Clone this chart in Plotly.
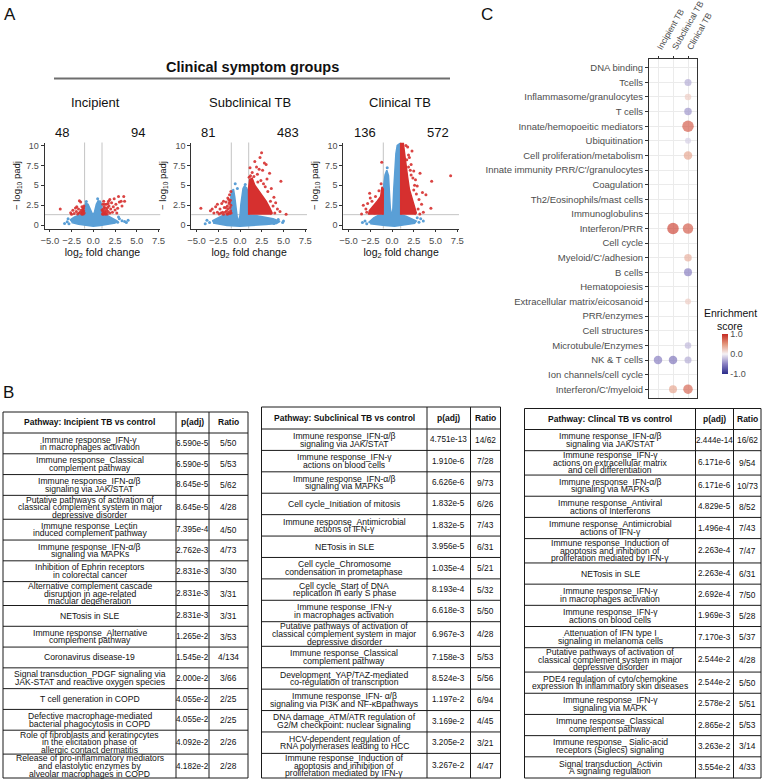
import plotly.graph_objects as go

W, H = 763, 780
def px(x): return x / W
def py(y): return 1 - y / H

FONT = "Liberation Sans, Arial, sans-serif"
NARROW = "Liberation Sans Narrow, Arial Narrow, Liberation Sans, sans-serif"

# ---------------- Panel A data ----------------
groups = ["Incipient", "Subclinical TB", "Clinical TB"]
n_down = [48, 81, 136]
n_up = [94, 483, 572]

# Incipient
inc_blob_x = [-2.7, -2.2, -1.6, -1.02, -1.0, -0.85, -0.6, -0.35, -0.15, -0.02, 0.15, 0.35, 0.55, 0.8, 0.98, 1.0, 1.6, 2.2, 2.7, 2.5, 1.6, 0.8, 0.0, -0.8, -1.7, -2.5]
inc_blob_y = [0.6, 1.0, 1.25, 1.3, 2.3, 2.75, 2.6, 2.0, 1.4, 1.2, 1.7, 2.6, 3.05, 3.0, 2.5, 1.3, 1.2, 0.9, 0.55, 0.25, 0.05, -0.05, -0.15, -0.05, 0.1, 0.3]
inc_blue_x = [-3.0, -2.9, -3.3, 2.8, 3.0, 3.3, 3.6, 4.0, 3.8, 0.5, -0.8, 2.9, -2.8]
inc_blue_y = [0.4, 0.8, 0.2, 0.35, 0.8, 0.55, 0.45, 0.6, 0.3, 3.3, 2.95, 1.0, 0.15]
inc_red_x = [-3.8, -2.6, -2.35, -2.2, -2.05, -1.95, -1.8, -1.7, -1.6, -1.5, -1.45, -1.4, -1.35, -1.3, -1.25, -1.2, -1.15, -1.1, -1.08, -1.05, -1.12, -1.22, -1.3, -2.5, -1.65, -1.9,
             1.05, 1.1, 1.15, 1.2, 1.25, 1.3, 1.35, 1.4, 1.45, 1.5, 1.55, 1.6, 1.65, 1.7, 1.75, 1.8, 1.9, 2.0, 2.1, 2.2, 2.3, 2.4, 2.5, 2.6, 2.7, 2.9, 3.0, 3.2, 3.3, 3.5, 3.6, 1.1, 1.2, 1.3, 1.9, 2.8, 1.0, 1.15, 1.4, 1.7]
inc_red_y = [2.0, 1.55, 1.85, 1.45, 2.15, 1.7, 1.4, 2.0, 3.05, 1.6, 2.9, 1.85, 1.45, 2.3, 1.65, 2.0, 1.4, 1.8, 2.4, 1.5, 2.15, 1.75, 1.35, 1.35, 1.5, 2.3,
             1.4, 1.7, 2.0, 1.5, 2.3, 1.8, 1.45, 2.1, 1.6, 2.6, 1.9, 1.4, 2.2, 1.7, 3.0, 2.4, 1.5, 2.0, 2.8, 1.6, 2.3, 3.3, 1.9, 2.6, 1.5, 3.6, 2.9, 3.0, 2.4, 3.6, 3.0, 2.6, 3.0, 2.6, 3.2, 2.1, 1.9, 1.35, 1.35, 2.7]

# Subclinical
sub_blob_x = [-3.2, -2.6, -2.0, -1.02, -1.0, -1.05, -0.95, -0.75, -0.6, -0.45, -0.3, -0.15, 0.0, 0.1, 0.2, 0.35, 0.5, 0.75, 0.98, 1.0, 1.8, 2.8, 3.8, 4.6, 4.2, 3.0, 1.5, 0.0, -1.5, -2.6, -3.1]
sub_blob_y = [0.5, 0.9, 1.2, 1.3, 2.5, 3.6, 4.3, 4.5, 3.5, 2.0, 0.8, 0.6, 1.2, 2.6, 3.8, 4.6, 4.9, 4.7, 4.0, 1.3, 1.2, 1.0, 0.8, 0.45, 0.2, 0.05, -0.05, -0.15, -0.05, 0.1, 0.25]
sub_blue_x = [-0.55, -3.5, -3.8, -4.0, 4.9, 4.4, 5.0, 3.9, -0.3, 0.6]
sub_blue_y = [5.2, 0.3, 0.6, 0.15, 0.3, 0.7, 0.5, 0.2, 4.6, 5.1]
sub_reddense_x = [1.0, 0.98, 1.1, 1.4, 1.7, 2.1, 2.6, 3.0, 3.4, 3.7, 3.5]
sub_reddense_y = [1.3, 4.6, 5.7, 5.9, 5.0, 4.4, 3.6, 3.0, 2.2, 1.5, 1.3]
sub_red_x = [-4.5, -3.4, -3.0, -2.8, -2.6, -2.4, -2.3, -2.1, -2.0, -1.9, -1.8, -1.7, -1.6, -1.55, -1.5, -1.45, -1.4, -1.35, -1.3, -1.25, -1.2, -1.18, -1.15, -1.1, -1.08, -1.05, -1.05, -1.02, -1.3, -1.6, -2.6, -3.2, -1.9, -1.2, -1.4, -2.2,
             2.48, 2.3, 2.8, 3.0, 1.7, 1.9, 2.2, 2.6, 1.4, 1.2, 2.0, 3.4, 4.7, 3.1, 2.4, 1.6, 3.6, 3.2, 2.9, 3.9, 4.1, 3.8, 4.3, 4.6, 5.3, 3.5, 4.0, 2.7, 1.15, 2.05, 1.3, 1.05]
sub_red_y = [2.1, 1.8, 1.5, 2.3, 1.6, 1.4, 2.0, 2.7, 1.6, 1.35, 2.2, 1.6, 2.9, 1.8, 1.4, 2.4, 3.4, 2.0, 1.6, 2.7, 3.8, 1.45, 2.2, 3.1, 1.8, 4.2, 2.5, 1.5, 3.2, 2.2, 2.6, 2.0, 3.0, 2.9, 1.4, 1.5,
             9.1, 8.5, 7.8, 7.6, 8.0, 7.3, 7.0, 6.9, 6.6, 6.2, 6.4, 6.5, 5.5, 5.8, 5.6, 6.1, 4.6, 4.2, 4.8, 3.5, 2.8, 2.4, 2.0, 1.7, 1.35, 3.0, 1.5, 5.2, 7.2, 5.4, 5.3, 6.0]

# Clinical
cli_blob_x = [-2.7, -2.1, -1.5, -1.02, -1.0, -0.95, -0.8, -0.6, -0.4, -0.3, -0.2, -0.05, 0.1, 0.2, 0.3, 0.45, 0.6, 0.85, 0.98, 1.0, 1.6, 2.2, 2.8, 2.6, 1.5, 0.3, -0.8, -1.8, -2.5]
cli_blob_y = [0.3, 0.9, 1.25, 1.3, 3.0, 5.0, 6.3, 6.9, 6.2, 4.0, 2.2, 1.0, 2.0, 4.5, 7.0, 9.0, 10.0, 10.2, 9.0, 1.3, 1.1, 0.8, 0.5, 0.2, 0.0, -0.15, -0.05, 0.1, 0.15]
cli_blue_x = [-2.9, -3.1, 3.1, 3.3, 2.9, -0.55, 3.6, -3.4]
cli_blue_y = [0.15, 0.5, 0.35, 0.8, 0.9, 7.2, 0.5, 0.3]
cli_redleft_x = [-1.02, -1.0, -1.15, -1.3, -1.7, -2.2, -2.6, -2.7]
cli_redleft_y = [1.3, 4.5, 4.8, 3.6, 3.0, 2.4, 1.8, 1.3]
cli_redright_x = [1.0, 1.0, 1.3, 1.45, 1.6, 1.8, 2.0, 2.3, 2.6, 2.8, 2.6]
cli_redright_y = [1.3, 10.3, 10.3, 9.2, 7.5, 6.0, 4.5, 3.3, 2.2, 1.5, 1.3]
cli_red_x = [-1.18, -2.57, -1.9, -3.0, -2.9, -3.3, -2.3, -1.5, -1.25, -2.8, -2.0, -1.6, -3.5, -2.5,
             3.22, 4.56, 6.74, 3.9, 4.47, 1.8, 1.6, 2.0, 2.2, 2.5, 2.7, 2.9, 3.1, 3.4, 3.0, 3.6, 2.3, 2.6, 3.5, 2.2, 1.9, 3.2,
             1.7, 2.1, 2.4, 2.8, 1.9, 2.5]
cli_red_y = [7.9, 4.0, 3.6, 2.0, 1.6, 2.5, 3.0, 4.3, 5.2, 2.7, 1.5, 2.0, 1.4, 3.4,
             6.5, 5.5, 6.2, 3.8, 2.1, 9.8, 10.0, 8.5, 7.6, 6.8, 5.7, 4.9, 3.2, 2.6, 2.0, 1.6, 9.3, 5.0, 4.1, 6.3, 8.8, 1.4,
             8.2, 6.9, 5.9, 3.9, 7.3, 4.4]

lfc_threshold = 1.0
padj_threshold = 1.3  # -log10(0.05)

x_ticks = [-5, -2.5, 0, 2.5, 5, 7.5]
x_ticklabels = ["\u22125.0", "\u22122.5", "0.0", "2.5", "5.0", "7.5"]
y_ticks = [0, 2.5, 5, 7.5, 10]
y_ticklabels = ["0", "2.5", "5", "7.5", "10"]

# ---------------- Panel C data ----------------
modules = ["DNA binding", "Tcells", "Inflammasome/granulocytes", "T cells", "Innate/hemopoeitic mediators",
           "Ubiquitination", "Cell proliferation/metabolism", "Innate immunity PRR/C'/granulocytes", "Coagulation",
           "Th2/Eosinophils/mast cells", "Immunoglobulins", "Interferon/PRR", "Cell cycle", "Myeloid/C'/adhesion",
           "B cells", "Hematopoiesis", "Extracellular matrix/eicosanoid", "PRR/enzymes", "Cell structures",
           "Microtubule/Enzymes", "NK & T cells", "Ion channels/cell cycle", "Interferon/C'/myeloid"]
conditions = ["Incipient TB", "Subclinical TB", "Clinical TB"]
dot_module = ["Tcells", "Inflammasome/granulocytes", "T cells", "Innate/hemopoeitic mediators", "Ubiquitination",
              "Cell proliferation/metabolism", "Interferon/PRR", "Interferon/PRR", "Myeloid/C'/adhesion", "B cells",
              "Extracellular matrix/eicosanoid", "Microtubule/Enzymes", "NK & T cells", "NK & T cells", "NK & T cells",
              "Interferon/C'/myeloid", "Interferon/C'/myeloid"]
dot_condition = ["Clinical TB", "Clinical TB", "Clinical TB", "Clinical TB", "Clinical TB", "Clinical TB",
                 "Subclinical TB", "Clinical TB", "Clinical TB", "Clinical TB", "Clinical TB", "Clinical TB",
                 "Incipient TB", "Subclinical TB", "Clinical TB", "Subclinical TB", "Clinical TB"]
dot_score = [-0.3, 0.2, -0.4, 0.75, -0.15, 0.4, 0.85, 0.75, 0.35, -0.5, 0.2, -0.25, -0.5, -0.55, -0.3, 0.4, 0.7]
dot_neglog10p = [3.0, 2.67, 3.33, 6.0, 2.33, 4.0, 6.0, 5.33, 3.33, 3.67, 2.33, 2.67, 4.0, 4.0, 3.0, 3.67, 4.67]

# ---------------- Panel B data ----------------
inc_paths = ["Immune response_IFN-\u03b3\nin macrophages activation",
             "Immune response_Classical\ncomplement pathway",
             "Immune response_IFN-\u03b1/\u03b2\nsignaling via JAK/STAT",
             "Putative pathways of activation of\nclassical complement system in major\ndepressive disorder",
             "Immune response_Lectin\ninduced complement pathway",
             "Immune response_IFN-\u03b1/\u03b2\nsignaling via MAPKs",
             "Inhibition of Ephrin receptors\nin colorectal cancer",
             "Alternative complement cascade\ndisruption in age-related\nmacular degeneration",
             "NETosis in SLE",
             "Immune response_Alternative\ncomplement pathway",
             "Coronavirus disease-19",
             "Signal transduction_PDGF signaling via\nJAK-STAT and reactive oxygen species",
             "T cell generation in COPD",
             "Defective macrophage-mediated\nbacterial phagocytosis in COPD",
             "Role of fibroblasts and keratinocytes\nin the elicitation phase of\nallergic contact dermatitis",
             "Release of pro-inflammatory mediators\nand elastolytic enzymes by\nalveolar macrophages in COPD"]
inc_padj = ["6.590e-5", "6.590e-5", "8.645e-5", "8.645e-5", "7.395e-4", "2.762e-3", "2.831e-3", "2.831e-3",
            "2.831e-3", "1.265e-2", "1.545e-2", "2.000e-2", "4.055e-2", "4.055e-2", "4.092e-2", "4.182e-2"]
inc_ratio = ["5/50", "5/53", "5/62", "4/28", "4/50", "4/73", "3/30", "3/31", "3/31", "3/53", "4/134", "3/66",
             "2/25", "2/25", "2/26", "2/28"]

sub_paths = ["Immune response_IFN-\u03b1/\u03b2\nsignaling via JAK/STAT",
             "Immune response_IFN-\u03b3\nactions on blood cells",
             "Immune response_IFN-\u03b1/\u03b2\nsignaling via MAPKs",
             "Cell cycle_Initiation of mitosis",
             "Immune response_Antimicrobial\nactions of IFN-\u03b3",
             "NETosis in SLE",
             "Cell cycle_Chromosome\ncondensation in prometaphase",
             "Cell cycle_Start of DNA\nreplication in early S phase",
             "Immune response_IFN-\u03b3\nin macrophages activation",
             "Putative pathways of activation of\nclassical complement system in major\ndepressive disorder",
             "Immune response_Classical\ncomplement pathway",
             "Development_YAP/TAZ-mediated\nco-regulation of transcription",
             "Immune response_IFN- \u03b1/\u03b2\nsignaling via PI3K and NF-\u03baBpathways",
             "DNA damage_ATM/ATR regulation of\nG2/M checkpoint: nuclear signaling",
             "HCV-dependent regulation of\nRNA polymerases leading to HCC",
             "Immune response_Induction of\napoptosis and inhibition of\nproliferation mediated by IFN-\u03b3"]
sub_padj = ["4.751e-13", "1.910e-6", "6.626e-6", "1.832e-5", "1.832e-5", "3.956e-5", "1.035e-4", "8.193e-4",
            "6.618e-3", "6.967e-3", "7.158e-3", "8.524e-3", "1.197e-2", "3.169e-2", "3.205e-2", "3.267e-2"]
sub_ratio = ["14/62", "7/28", "9/73", "6/26", "7/43", "6/31", "5/21", "5/32", "5/50", "4/28", "5/53", "5/56",
             "6/94", "4/45", "3/21", "4/47"]

cli_paths = ["Immune response_IFN-\u03b1/\u03b2\nsignaling via JAK/STAT",
             "Immune response_IFN-\u03b3\nactions on extracellular matrix\nand cell differentiation",
             "Immune response_IFN-\u03b1/\u03b2\nsignaling via MAPKs",
             "Immune response_Antiviral\nactions of Interferons",
             "Immune response_Antimicrobial\nactions of IFN-\u03b3",
             "Immune response_Induction of\napoptosis and inhibition of\nproliferation mediated by IFN-\u03b3",
             "NETosis in SLE",
             "Immune response_IFN-\u03b3\nin macrophages activation",
             "Immune response_IFN-\u03b3\nactions on blood cells",
             "Attenuation of IFN type I\nsignaling in melanoma cells",
             "Putative pathways of activation of\nclassical complement system in major\ndepressive disorder",
             "PDE4 regulation of cyto/chemokine\nexpression in inflammatory skin diseases",
             "Immune response_IFN-\u03b3\nsignaling via MAPK",
             "Immune response_Classical\ncomplement pathway",
             "Immune response_ Sialic-acid\nreceptors (Siglecs) signaling",
             "Signal transduction_Activin\nA signaling regulation"]
cli_padj = ["2.444e-14", "6.171e-6", "6.171e-6", "4.829e-5", "1.496e-4", "2.263e-4", "2.263e-4", "2.692e-4",
            "1.969e-3", "7.170e-3", "2.544e-2", "2.544e-2", "2.578e-2", "2.865e-2", "3.263e-2", "3.554e-2"]
cli_ratio = ["16/62", "9/54", "10/73", "8/52", "7/43", "7/47", "6/31", "7/50", "5/28", "5/37", "4/28", "5/50",
             "5/51", "5/53", "3/14", "4/33"]

table_headers = ["Pathway: Incipient TB vs control", "Pathway: Subclinical TB vs control", "Pathway: Clincal TB vs control"]
col_headers = ["p(adj)", "Ratio"]

# ---------------- Figure ----------------
BLUE = "#5A9FD6"
RED = "#D6302F"
fig = go.Figure()
annotations = []
shapes = []

def ann(x, y, text, size, color="#111111", family=FONT, xanchor="center", yanchor="middle", angle=0):
    annotations.append(dict(x=px(x), y=py(y), xref="paper", yref="paper", text=text, showarrow=False,
                            font=dict(size=size, color=color, family=family), xanchor=xanchor,
                            yanchor=yanchor, textangle=angle, borderpad=0))

volc = [
    (inc_blob_x, inc_blob_y, inc_blue_x, inc_blue_y, [], inc_red_x, inc_red_y),
    (sub_blob_x, sub_blob_y, sub_blue_x, sub_blue_y, [(sub_reddense_x, sub_reddense_y)], sub_red_x, sub_red_y),
    (cli_blob_x, cli_blob_y, cli_blue_x, cli_blue_y, [(cli_redleft_x, cli_redleft_y), (cli_redright_x, cli_redright_y)], cli_red_x, cli_red_y),
]
zero_px = [93.3, 240.0, 392.0]
unit_x = 8.7
xr = [-5.6, 7.7]
yr = [-0.44, 10.38]
y_top, y_bot = 142.5, 228.5

for i, (bx, by, blx, bly, dense, rx, ry) in enumerate(volc):
    xa = "x" if i == 0 else f"x{i+1}"
    ya = "y" if i == 0 else f"y{i+1}"
    fig.add_trace(go.Scatter(x=bx, y=by, mode="lines", fill="toself", fillcolor=BLUE,
                             line=dict(color=BLUE, width=1.5), xaxis=xa, yaxis=ya, hoverinfo="skip"))
    fig.add_trace(go.Scatter(x=blx, y=bly, mode="markers", marker=dict(color=BLUE, size=3),
                             xaxis=xa, yaxis=ya))
    for dx, dy in dense:
        fig.add_trace(go.Scatter(x=dx, y=dy, mode="lines", fill="toself", fillcolor=RED,
                                 line=dict(color=RED, width=1.5), xaxis=xa, yaxis=ya, hoverinfo="skip"))
    fig.add_trace(go.Scatter(x=rx, y=ry, mode="markers", marker=dict(color=RED, size=3, opacity=0.9),
                             xaxis=xa, yaxis=ya))
    for v in (-lfc_threshold, lfc_threshold):
        shapes.append(dict(type="line", xref=xa, yref=f"{ya} domain", x0=v, x1=v, y0=0, y1=1,
                           line=dict(color="#C4C4C4", width=1), layer="below"))
    shapes.append(dict(type="line", xref=f"{xa} domain", yref=ya, x0=0, x1=1, y0=padj_threshold, y1=padj_threshold,
                       line=dict(color="#C4C4C4", width=1), layer="below"))
    x0 = zero_px[i] + xr[0] * unit_x
    x1 = zero_px[i] + xr[1] * unit_x
    axkey = "xaxis" if i == 0 else f"xaxis{i+1}"
    aykey = "yaxis" if i == 0 else f"yaxis{i+1}"
    fig.layout[axkey] = dict(domain=[px(x0), px(x1)], range=xr, anchor=ya, tickvals=x_ticks, ticktext=x_ticklabels,
                             showline=True, linecolor="#333333", linewidth=0.8, ticks="outside", ticklen=3,
                             tickcolor="#333333", tickfont=dict(size=9.5, color="#4D4D4D"), showgrid=False,
                             zeroline=False, title=dict(text="log<sub>2</sub> fold change",
                                                         font=dict(size=10.5, color="#111111"), standoff=1),
                             automargin=False)
    fig.layout[aykey] = dict(domain=[py(y_bot), py(y_top)], range=yr, anchor=xa, tickvals=y_ticks,
                             ticktext=y_ticklabels, showline=True, linecolor="#333333", linewidth=0.8,
                             ticks="outside", ticklen=3, tickcolor="#333333",
                             tickfont=dict(size=9, color="#4D4D4D"), showgrid=False, zeroline=False,
                             title=dict(text="\u2212 log<sub>10</sub> padj", font=dict(size=9.5, color="#111111"),
                                        standoff=4), automargin=False)

# Panel A texts
ann(10, 14, "A", 17)
ann(252, 67, "<b>Clinical symptom groups</b>", 14.5)
shapes.append(dict(type="line", xref="paper", yref="paper", x0=px(54), x1=px(450), y0=py(78.5), y1=py(78.5),
                   line=dict(color="#6E6E6E", width=2)))
for g, cx in zip(groups, [96, 250, 400]):
    ann(cx, 103, g, 13)
for dn, up, lx, rx_ in zip(n_down, n_up, [62, 208, 365], [138, 288, 438]):
    ann(lx, 132, str(dn), 13)
    ann(rx_, 132, str(up), 13)

# ---------------- Panel C ----------------
ann(487, 14, "C", 17)
fig.add_trace(go.Scatter(
    x=dot_condition, y=dot_module, mode="markers", xaxis="x4", yaxis="y4",
    marker=dict(size=[2.5 + 1.5 * v for v in dot_neglog10p], color=dot_score, cmin=-1, cmax=1,
                colorscale=[[0, "#2B2C8A"], [0.25, "#8A80C2"], [0.5, "#F5F2F5"], [0.75, "#E3957A"], [1, "#C52A22"]],
                line=dict(width=0),
                colorbar=dict(x=px(722), xanchor="left", y=py(354), yanchor="middle", lenmode="pixels", len=40,
                              thickness=6, tickvals=[-1, 0, 1], ticktext=["-1.0", "0.0", "1.0"],
                              tickfont=dict(size=9, color="#4D4D4D"), outlinewidth=0, ticks="", ypad=0, xpad=0))))
fig.layout["xaxis4"] = dict(domain=[px(649), px(697)], type="category", categoryorder="array",
                            categoryarray=conditions, range=[-0.6, 2.6], side="top", tickangle=-60, anchor="y4",
                            showline=True, mirror=True, linecolor="#333333", linewidth=1, ticks="outside",
                            ticklen=2, tickcolor="#333333", tickfont=dict(size=8.6, color="#4D4D4D"),
                            showgrid=True, gridcolor="#EBEBEB", gridwidth=0.8, zeroline=False, automargin=False)
fig.layout["yaxis4"] = dict(domain=[py(398), py(59)], type="category", categoryorder="array",
                            categoryarray=modules, range=[22.6, -0.6], anchor="x4",
                            showline=True, mirror=True, linecolor="#333333", linewidth=1, ticks="outside",
                            ticklen=3, tickcolor="#333333", tickfont=dict(size=9.5, color="#4D4D4D"),
                            showgrid=True, gridcolor="#EBEBEB", gridwidth=0.8, zeroline=False, automargin=False)
ann(730, 313, "Enrichment", 10.5)
ann(730, 326, "score", 10.5)

# ---------------- Panel B (tables) ----------------
ann(8, 392, "B", 17)
tables = [
    (table_headers[0], inc_paths, inc_padj, inc_ratio, [3, 176, 209, 248], 412, 433),
    (table_headers[1], sub_paths, sub_padj, sub_ratio, [261.5, 427, 470.5, 500.5], 407, 429),
    (table_headers[2], cli_paths, cli_padj, cli_ratio, [524.5, 695.5, 733.5, 761], 408.5, 429.5),
]
bottom = 778
LINE = dict(color="#1A1A1A", width=1)
for head, paths, padj, ratio, xs, top, hb in tables:
    shapes.append(dict(type="rect", xref="paper", yref="paper", x0=px(xs[0]), x1=px(xs[3]), y0=py(bottom), y1=py(top), line=LINE))
    for xv in xs[1:3]:
        shapes.append(dict(type="line", xref="paper", yref="paper", x0=px(xv), x1=px(xv), y0=py(bottom), y1=py(top), line=LINE))
    shapes.append(dict(type="line", xref="paper", yref="paper", x0=px(xs[0]), x1=px(xs[3]), y0=py(hb), y1=py(hb), line=LINE))
    cx = [(xs[0] + xs[1]) / 2, (xs[1] + xs[2]) / 2, (xs[2] + xs[3]) / 2]
    hy = (top + hb) / 2
    ann(cx[0], hy, f"<b>{head}</b>", 8.5)
    ann(cx[1], hy, f"<b>{col_headers[0]}</b>", 8.5)
    ann(cx[2], hy, f"<b>{col_headers[1]}</b>", 8.5)
    weights = [1.15 if p.count("\n") >= 2 else 1.0 for p in paths]
    unit = (bottom - hb) / sum(weights)
    y = hb
    for k, (p, pv, rv) in enumerate(zip(paths, padj, ratio)):
        h = weights[k] * unit
        c = y + h / 2
        lines = p.split("\n")
        n = len(lines)
        for j, ln in enumerate(lines):
            ann(cx[0], c + (j - (n - 1) / 2) * 7.6, ln, 8.6, family=NARROW)
        ann(cx[1], c, pv, 8.2, family=NARROW)
        ann(cx[2], c, rv, 8.4, family=NARROW)
        y += h
        if k < len(paths) - 1:
            shapes.append(dict(type="line", xref="paper", yref="paper", x0=px(xs[0]), x1=px(xs[3]), y0=py(y), y1=py(y), line=LINE))

fig.update_layout(width=W, height=H, margin=dict(l=0, r=0, t=0, b=0), paper_bgcolor="white",
                  plot_bgcolor="white", showlegend=False, font=dict(family=FONT, color="#111111"),
                  annotations=annotations, shapes=shapes)
fig.write_html("out.html", config={"displayModeBar": False},
               post_script="document.body.style.margin='0px';document.body.style.overflow='hidden';")
